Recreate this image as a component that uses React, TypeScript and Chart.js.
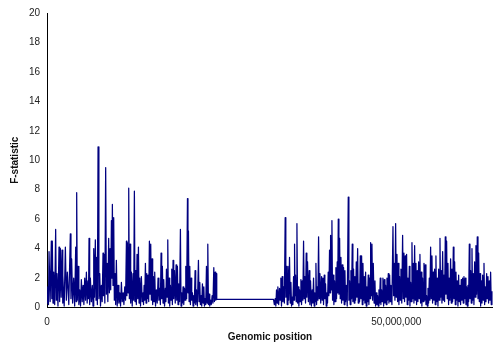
import React, { useEffect, useRef } from "react";
import { Chart, registerables } from "chart.js";

Chart.register(...registerables);

// Genomic position (Mb) and F-statistic.
const leftArm: [number, number][] = [
  [0.00,0.9],[0.07,0.3],[0.14,1.4],[0.21,0.2],[0.29,3.8],[0.45,0.4],[0.62,4.5],[0.69,0.6],[0.76,4.5],[0.86,0.3],
  [0.96,2.4],[1.10,0.2],[1.24,5.3],[1.33,0.5],[1.43,2.3],[1.57,0.1],[1.72,4.1],[1.81,0.4],[1.91,4.0],[2.03,0.7],
  [2.15,3.9],[2.22,0.3],[2.29,2.2],[2.46,0.1],[2.63,4.1],[2.77,0.5],[2.91,2.4],[3.12,0.2],[3.34,5.0],[3.43,0.6],
  [3.53,3.3],[3.67,0.3],[3.82,2.0],[3.96,0.1],[4.11,4.1],[4.18,0.4],[4.25,7.8],[4.34,0.5],[4.44,2.8],[4.56,0.2],
  [4.68,1.2],[4.80,0.1],[4.92,1.9],[5.04,0.4],[5.16,1.5],[5.28,0.2],[5.40,2.0],[5.52,0.5],[5.64,2.4],[5.75,0.3],
  [5.87,1.8],[5.94,0.6],[6.02,4.7],[6.11,0.2],[6.21,2.0],[6.35,0.4],[6.49,1.5],[6.59,0.1],[6.69,4.0],[6.80,0.7],
  [6.92,4.6],[7.02,0.5],[7.12,3.4],[7.21,0.2],[7.31,10.9],[7.43,0.6],[7.55,2.3],[7.66,0.1],[7.78,1.5],[7.90,0.4],
  [8.02,3.7],[8.09,0.8],[8.17,3.6],[8.28,0.3],[8.40,9.5],[8.50,0.9],[8.60,3.0],[8.71,0.4],[8.83,4.7],[8.93,1.0],
  [9.03,4.0],[9.12,1.2],[9.22,5.9],[9.29,2.0],[9.36,7.0],[9.45,1.5],[9.55,6.1],[9.64,0.5],[9.74,2.3],[9.83,0.2],
  [9.93,3.2],[10.05,0.1],[10.17,1.5],[10.29,0.3],[10.41,1.0],[10.53,0.1],[10.65,1.7],[10.77,0.4],[10.89,1.0],[11.01,0.2],
  [11.13,1.4],[11.25,0.5],[11.37,4.5],[11.44,0.8],[11.51,4.4],[11.60,1.0],[11.70,8.1],[11.79,0.6],[11.89,4.3],[11.98,0.3],
  [12.08,2.4],[12.20,0.1],[12.32,2.3],[12.41,0.5],[12.51,7.9],[12.60,0.4],[12.70,2.5],[12.79,0.2],[12.89,3.6],[12.99,0.6],
  [13.09,4.1],[13.18,0.3],[13.28,2.0],[13.39,0.1],[13.51,2.1],[13.63,0.4],[13.75,1.0],[13.82,0.2],[13.90,1.5],[13.99,0.5],
  [14.09,3.0],[14.18,0.3],[14.28,2.3],[14.37,0.6],[14.47,2.2],[14.56,0.4],[14.66,4.5],[14.75,0.9],[14.85,4.3],[14.94,0.5],
  [15.04,3.3],[15.13,0.2],[15.23,2.1],[15.32,0.4],[15.42,2.4],[15.54,0.1],[15.66,1.2],[15.78,0.3],[15.90,2.0],[16.02,0.5],
  [16.14,1.3],[16.23,0.2],[16.33,3.7],[16.42,0.6],[16.52,2.8],[16.61,0.3],[16.71,1.9],[16.83,0.1],[16.95,1.3],[17.02,0.4],
  [17.10,2.6],[17.19,0.7],[17.29,4.6],[17.38,0.3],[17.48,2.0],[17.57,0.1],[17.67,1.5],[17.76,0.5],[17.86,2.6],[17.95,0.2],
  [18.05,3.2],[18.14,0.6],[18.24,2.5],[18.36,0.3],[18.48,2.9],[18.57,0.5],[18.67,2.8],[18.76,0.2],[18.86,1.6],[18.98,0.4],
  [19.10,5.3],[19.19,0.1],[19.29,1.0],[19.38,0.3],[19.48,1.4],[19.58,0.2],[19.68,1.3],[19.77,0.5],[19.87,2.8],[19.99,0.6],
  [20.11,7.4],[20.18,1.0],[20.25,5.2],[20.34,0.4],[20.44,2.8],[20.53,0.2],[20.63,2.0],[20.72,0.5],[20.82,1.0],[20.91,0.1],
  [21.01,0.8],[21.10,0.3],[21.20,2.5],[21.29,0.2],[21.39,1.2],[21.53,0.1],[21.68,3.2],[21.77,0.4],[21.87,1.7],[21.96,0.2],
  [22.06,0.8],[22.15,0.1],[22.25,1.6],[22.35,0.3],[22.45,1.4],[22.54,0.1],[22.64,0.6],[22.73,0.2],[22.83,2.8],[22.92,0.3],
  [23.02,4.3],[23.11,0.2],[23.21,0.9],[23.30,0.1],[23.40,0.5],[23.52,0.2],[23.64,0.8],[23.76,0.3],[23.88,2.7],[23.97,0.4],
  [24.07,2.4],[24.16,0.5],[24.26,2.3],[24.30,0.55],
];

const rightArm: [number, number][] = [
  [32.43,0.55],[32.55,0.2],[32.67,0.6],[32.76,0.1],[32.86,1.2],[32.95,0.3],[33.05,1.4],[33.17,0.2],[33.29,1.3],[33.38,0.5],
  [33.48,2.0],[33.57,0.1],[33.67,2.1],[33.77,0.4],[33.87,1.4],[33.98,0.3],[34.10,6.1],[34.19,0.7],[34.29,2.8],[34.39,0.2],
  [34.49,2.8],[34.60,0.5],[34.72,3.4],[34.82,0.3],[34.92,1.7],[35.01,0.1],[35.11,0.7],[35.20,0.2],[35.30,2.1],[35.37,0.5],
  [35.44,4.3],[35.51,0.8],[35.58,2.2],[35.68,0.4],[35.78,5.7],[35.87,0.3],[35.97,1.4],[36.06,0.1],[36.16,1.2],[36.25,0.4],
  [36.35,1.9],[36.44,0.2],[36.54,1.8],[36.63,0.5],[36.73,4.5],[36.82,0.6],[36.92,2.1],[37.01,0.3],[37.11,3.7],[37.20,0.7],
  [37.30,3.1],[37.42,0.4],[37.54,2.5],[37.63,0.2],[37.73,1.8],[37.85,0.1],[37.97,1.2],[38.06,0.3],[38.16,2.0],[38.25,0.1],
  [38.35,1.0],[38.42,0.4],[38.50,3.0],[38.59,0.2],[38.69,1.4],[38.78,0.5],[38.88,4.8],[38.97,0.6],[39.07,2.3],[39.19,0.3],
  [39.31,2.1],[39.40,0.5],[39.50,2.0],[39.59,0.2],[39.69,2.2],[39.78,0.6],[39.88,1.6],[39.97,0.1],[40.07,1.0],[40.16,0.3],
  [40.26,2.4],[40.35,0.8],[40.45,3.9],[40.52,1.0],[40.60,4.9],[40.69,1.2],[40.79,5.9],[40.88,0.5],[40.98,2.2],[41.07,0.2],
  [41.17,1.8],[41.26,0.4],[41.36,2.7],[41.45,0.6],[41.55,3.1],[41.62,1.0],[41.70,6.0],[41.79,0.9],[41.89,4.7],[41.98,0.6],
  [42.08,3.4],[42.17,0.3],[42.27,2.9],[42.36,0.5],[42.46,2.7],[42.55,0.2],[42.65,2.5],[42.74,0.4],[42.84,1.5],[42.98,0.1],
  [43.13,7.5],[43.22,0.5],[43.32,1.8],[43.41,0.2],[43.51,2.5],[43.60,0.6],[43.70,4.3],[43.79,0.4],[43.89,2.6],[43.98,0.3],
  [44.08,2.1],[44.18,0.5],[44.28,3.1],[44.37,0.7],[44.47,4.0],[44.56,0.3],[44.66,1.6],[44.75,0.4],[44.85,3.5],[44.94,0.6],
  [45.04,3.5],[45.13,0.2],[45.23,3.0],[45.32,0.5],[45.42,2.1],[45.51,0.3],[45.61,2.4],[45.70,0.1],[45.80,1.4],[45.89,0.4],
  [45.99,2.2],[46.08,0.2],[46.18,2.0],[46.25,0.6],[46.33,4.4],[46.42,0.8],[46.52,4.3],[46.61,0.5],[46.71,3.0],[46.83,0.3],
  [46.95,1.8],[47.04,0.1],[47.14,1.0],[47.23,0.2],[47.33,0.8],[47.42,0.1],[47.52,1.2],[47.61,0.3],[47.71,2.0],[47.80,0.2],
  [47.90,1.2],[47.99,0.4],[48.09,2.0],[48.19,0.1],[48.29,1.9],[48.38,0.3],[48.48,1.5],[48.57,0.2],[48.67,2.0],[48.76,0.5],
  [48.86,2.3],[48.95,0.3],[49.05,2.2],[49.14,0.4],[49.24,1.5],[49.38,0.2],[49.53,5.5],[49.62,0.8],[49.72,3.0],[49.81,0.5],
  [49.91,5.7],[50.00,0.7],[50.10,3.6],[50.19,0.4],[50.29,3.0],[50.38,0.2],[50.48,2.1],[50.57,0.5],[50.67,2.6],[50.79,0.3],
  [50.91,4.9],[51.00,0.6],[51.10,3.7],[51.19,0.4],[51.29,3.5],[51.38,0.7],[51.48,3.6],[51.57,0.2],[51.67,2.0],[51.77,0.5],
  [51.87,2.8],[51.96,0.1],[52.06,1.7],[52.15,0.4],[52.25,4.4],[52.34,0.6],[52.44,3.0],[52.53,0.3],[52.63,4.2],[52.72,0.5],
  [52.82,3.0],[52.91,0.2],[53.01,2.5],[53.10,0.4],[53.20,3.1],[53.29,0.6],[53.39,3.6],[53.48,0.3],[53.58,2.4],[53.67,0.1],
  [53.77,2.0],[53.87,0.4],[53.97,3.0],[54.06,0.5],[54.16,2.9],[54.25,0.2],[54.35,0.8],[54.44,0.1],[54.54,1.3],[54.63,0.3],
  [54.73,2.0],[54.82,0.5],[54.92,4.1],[55.01,0.6],[55.11,3.5],[55.20,0.3],[55.30,2.4],[55.39,0.5],[55.49,2.6],[55.58,0.2],
  [55.68,3.5],[55.77,0.4],[55.87,2.0],[55.97,0.1],[56.07,2.6],[56.16,0.5],[56.26,4.7],[56.35,0.7],[56.45,2.5],[56.54,0.3],
  [56.64,3.8],[56.73,0.5],[56.83,2.2],[56.92,0.4],[57.02,4.8],[57.11,0.9],[57.21,4.5],[57.30,0.6],[57.40,3.0],[57.49,0.2],
  [57.59,2.0],[57.68,0.5],[57.78,3.3],[57.88,0.3],[57.98,2.6],[58.07,0.4],[58.17,4.1],[58.26,0.6],[58.36,3.1],[58.45,0.2],
  [58.55,2.4],[58.64,0.5],[58.74,1.8],[58.83,0.1],[58.93,2.2],[59.02,0.4],[59.12,1.5],[59.21,0.2],[59.31,1.9],[59.40,0.5],
  [59.50,2.0],[59.59,0.3],[59.69,2.1],[59.79,0.6],[59.89,2.0],[59.98,0.2],[60.08,1.4],[60.17,0.1],[60.27,1.5],[60.36,0.4],
  [60.46,4.3],[60.55,0.6],[60.65,2.5],[60.74,0.3],[60.84,4.0],[60.93,0.5],[61.03,2.3],[61.12,0.2],[61.22,3.1],[61.31,0.7],
  [61.41,4.2],[61.50,0.9],[61.60,4.8],[61.70,0.6],[61.80,3.7],[61.89,0.4],[61.99,2.3],[62.08,0.1],[62.18,1.8],[62.27,0.3],
  [62.37,2.2],[62.46,0.5],[62.56,3.0],[62.65,0.2],[62.75,1.4],[62.84,0.4],[62.94,2.3],[63.03,0.6],[63.13,2.1],[63.22,0.3],
  [63.32,1.8],[63.41,0.5],[63.51,2.4],[63.60,0.2],[63.70,1.1],
];

const xTickValues = [0, 50000000];
const yMin = 0;
const yMax = 20;
const yStep = 2;
const xMaxBp = 63850000;
const xTitle = "Genomic position";
const yTitle = "F-statistic";

export default function App() {
  const ref = useRef<HTMLCanvasElement | null>(null);

  useEffect(() => {
    document.body.style.margin = "0";
    const canvas = ref.current;
    if (!canvas) return;
    const points = [...leftArm, ...rightArm].map(([mb, f]) => ({ x: mb * 1e6, y: f }));
    const font = { family: "'Liberation Sans', Arial, sans-serif", size: 10 };
    const chart = new Chart(canvas, {
      type: "line",
      data: {
        datasets: [
          {
            data: points,
            borderColor: "#000080",
            backgroundColor: "#000080",
            borderWidth: 1.25,
            borderJoinStyle: "round",
            pointRadius: 0,
            tension: 0,
            fill: false,
          },
        ],
      },
      options: {
        animation: false,
        responsive: false,
        parsing: false,
        layout: { padding: { left: 0, right: 0, top: 12, bottom: 0 } },
        plugins: { legend: { display: false }, tooltip: { enabled: false } },
        scales: {
          x: {
            type: "linear",
            min: 0,
            max: xMaxBp,
            grid: { display: false, drawTicks: false },
            border: { display: true, color: "#000", width: 1 },
            afterBuildTicks: (s: any) => {
              s.ticks = xTickValues.map((v) => ({ value: v }));
            },
            afterFit: (s: any) => {
              s.height = 39.5;
            },
            ticks: {
              font,
              color: "#222",
              padding: 9,
              maxRotation: 0,
              callback: (v: any) => Number(v).toLocaleString("en-US"),
            },
            title: {
              display: true,
              text: xTitle,
              font: { ...font, weight: "bold" },
              color: "#111",
              padding: { top: 0, bottom: 4 },
            },
          },
          y: {
            min: yMin,
            max: yMax,
            grid: { display: false, drawTicks: false },
            border: { display: true, color: "#000", width: 1 },
            afterFit: (s: any) => {
              s.width = 47;
            },
            ticks: { font, color: "#222", padding: 7, stepSize: yStep },
            title: {
              display: true,
              text: yTitle,
              font: { ...font, weight: "bold" },
              color: "#111",
              padding: { top: 9, bottom: 0 },
            },
          },
        },
      },
    });
    return () => chart.destroy();
  }, []);

  return <canvas ref={ref} width={493} height={347} style={{ display: "block" }} />;
}
